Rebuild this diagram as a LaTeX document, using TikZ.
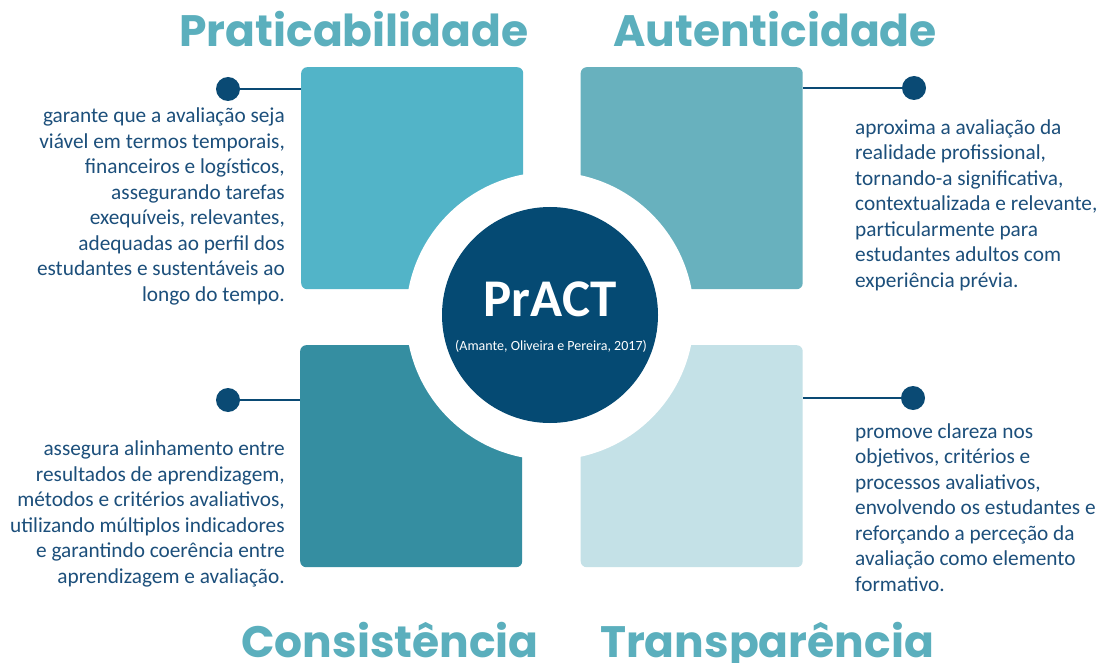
\documentclass[tikz,border=0pt]{standalone}
\usepackage{fontspec}
\setmainfont{Carlito}
\newfontfamily\titlefont{Poppins}
\definecolor{sqA}{HTML}{52B4C8}
\definecolor{sqB}{HTML}{68B1BE}
\definecolor{sqC}{HTML}{358EA1}
\definecolor{sqD}{HTML}{C4E1E7}
\definecolor{core}{HTML}{054A73}
\definecolor{ttl}{HTML}{5BAFBD}
\definecolor{txt}{HTML}{1C4F7B}
\definecolor{dotc}{HTML}{0A4A74}
\tikzset{
  sq/.style={rounded corners=6pt, minimum width=222pt, minimum height=222pt, inner sep=0pt, anchor=north west},
  dotn/.style={circle, fill=dotc, minimum size=24pt, inner sep=0pt},
  link/.style={draw=dotc, line width=1.8pt},
  desc/.style={text=txt, inner sep=0pt, font=\fontsize{21.3}{25.5}\selectfont},
  ttlst/.style={text=ttl, inner sep=0pt, anchor=base, font=\titlefont\bfseries\fontsize{44}{50}\selectfont},
}
\begin{document}
\begin{tikzpicture}[x=1pt,y=-1pt]
\useasboundingbox (0,0) rectangle (1100,663);
\fill[white] (0,0) rectangle (1100,663);
% squares
\node[sq, fill=sqA] (tl) at (301,67) {};
\node[sq, fill=sqB] (tr) at (580.5,67) {};
\node[sq, fill=sqC] (bl) at (300,345) {};
\node[sq, fill=sqD] (br) at (580.5,345) {};
% ring and core
\node[circle, fill=white, minimum size=288pt, inner sep=0pt] (ring) at (550,316) {};
\node[circle, fill=core, minimum size=216pt, inner sep=0pt] (hub) at (550,315) {};
\node[text=white, inner sep=0pt, anchor=base, font=\bfseries\fontsize{53}{58}\selectfont] (hubtitle) at (550,316) {PrACT};
\node[text=white, inner sep=0pt, anchor=base, font=\fontsize{14}{16}\selectfont] (hubcite) at (551,350) {(Amante, Oliveira e Pereira, 2017)};
% dots and links
\node[dotn] (dtl) at (228,89) {};
\node[dotn] (dtr) at (914,88) {};
\node[dotn] (dbl) at (228,400) {};
\node[dotn] (dbr) at (913,398) {};
\draw[link] (dtl) -- (dtl -| tl.west);
\draw[link] (dtr) -- (dtr -| tr.east);
\draw[link] (dbl) -- (dbl -| bl.west);
\draw[link] (dbr) -- (dbr -| br.east);
% descriptions (base anchor = last line baseline)
\node[desc, anchor=base east, align=right] (ttl1) at (285,301) {garante que a avaliação seja\\viável em termos temporais,\\financeiros e logísticos,\\assegurando tarefas\\exequíveis, relevantes,\\adequadas ao perfil dos\\estudantes e sustentáveis ao\\longo do tempo.};
\node[desc, anchor=base west, align=left] (ttr) at (855,287) {aproxima a avaliação da\\realidade profissional,\\tornando-a significativa,\\contextualizada e relevante,\\particularmente para\\estudantes adultos com\\experiência prévia.};
\node[desc, anchor=base east, align=right] (tbl) at (285,583) {assegura alinhamento entre\\resultados de aprendizagem,\\métodos e critérios avaliativos,\\utilizando múltiplos indicadores\\e garantindo coerência entre\\aprendizagem e avaliação.};
\node[desc, anchor=base west, align=left] (tbr) at (855,591) {promove clareza nos\\objetivos, critérios e\\processos avaliativos,\\envolvendo os estudantes e\\reforçando a perceção da\\avaliação como elemento\\formativo.};
% titles
\node[ttlst] (h1) at (354,47) {Praticabilidade};
\node[ttlst] (h2) at (775,47) {Autenticidade};
\node[ttlst] (h3) at (390,657) {Consistência};
\node[ttlst] (h4) at (767,657) {Transparência};
\end{tikzpicture}
\end{document}
